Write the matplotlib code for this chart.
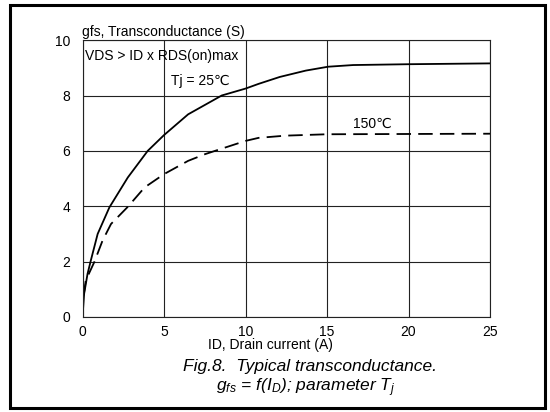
import matplotlib
matplotlib.use("Agg")
import matplotlib.pyplot as plt
from matplotlib.patches import Rectangle

plt.rcParams['font.family'] = ['Liberation Sans', 'DejaVu Sans']
plt.rcParams['mathtext.fontset'] = 'custom'
plt.rcParams['mathtext.it'] = 'Liberation Sans:italic'
plt.rcParams['mathtext.rm'] = 'Liberation Sans:italic'

# Data
id_25 = [0, 0.1, 0.31, 0.51, 0.93, 1.65, 2.78, 4.0, 5.0, 6.48, 8.54, 10.0, 10.8,
         12.1, 13.7, 15.07, 16.6, 20, 25]
gfs_25 = [0, 0.84, 1.56, 2.04, 3.0, 3.96, 5.04, 6.0, 6.57, 7.32, 8.0, 8.25, 8.42,
          8.67, 8.9, 9.04, 9.1, 9.13, 9.16]

id_150 = [0, 0.05, 0.2, 0.72, 1.23, 1.75, 2.78, 3.81, 5.0, 6.48, 7.51, 8.75, 10.0,
          10.8, 12.45, 15, 20, 25]
gfs_150 = [0, 0.7, 1.32, 1.98, 2.76, 3.36, 3.98, 4.68, 5.16, 5.64, 5.88, 6.12, 6.36,
           6.47, 6.55, 6.6, 6.61, 6.62]

x_ticks = [0, 5, 10, 15, 20, 25]
y_ticks = [0, 2, 4, 6, 8, 10]

fig = plt.figure(figsize=(5.5, 4.12), dpi=100)
ax = fig.add_axes([0.150, 0.2306, 0.741, 0.672])

ax.plot(id_25, gfs_25, color='black', lw=1.3)
ax.plot(id_150, gfs_150, color='black', lw=1.3, dashes=(8, 4))

ax.set_xlim(0, 25)
ax.set_ylim(0, 10)
ax.set_xticks(x_ticks)
ax.set_yticks(y_ticks)
ax.tick_params(length=0, labelsize=10)
ax.tick_params(axis='x', pad=6)
ax.tick_params(axis='y', pad=9)
ax.grid(True, color='#222222', lw=0.8)
for s in ax.spines.values():
    s.set_color('#222222')
    s.set_linewidth(0.8)

ax.text(0, 10.3, 'gfs, Transconductance (S)', fontsize=10, ha='left', va='center', clip_on=False)
ax.text(0.15, 9.42, 'VDS > ID x RDS(on)max', fontsize=10, ha='left', va='center')
ax.text(5.4, 8.52, 'Tj = 25\u2103', fontsize=10, ha='left', va='center')
ax.text(16.6, 6.98, '150\u2103', fontsize=10, ha='left', va='center')

fig.text(270 / 550, 1 - 345 / 412, 'ID, Drain current (A)', fontsize=10, ha='center', va='center')
fig.text(310 / 550, 1 - 367 / 412, 'Fig.8.  Typical transconductance.', fontsize=12.5,
         style='italic', ha='center', va='center')
fig.text(306 / 550, 1 - 388 / 412, 'g$_{fs}$ = f(I$_D$); parameter T$_j$', fontsize=12.5,
         style='italic', ha='center', va='center')

fig.patches.append(Rectangle((10 / 550, 1 - 408 / 412), 535 / 550, 403 / 412,
                             transform=fig.transFigure, fill=False, lw=2.2, color='black'))

fig.savefig('out.png', dpi=100)
